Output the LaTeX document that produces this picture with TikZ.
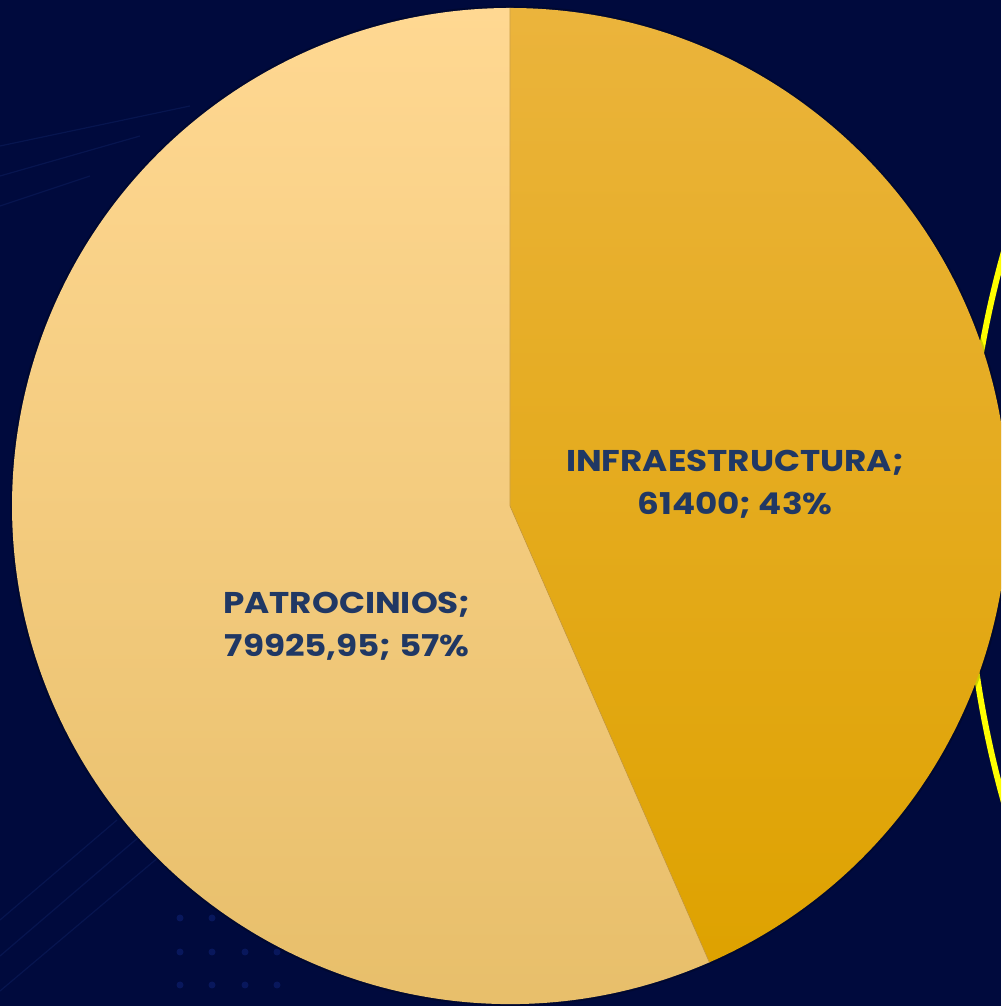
\documentclass[tikz,border=0pt]{standalone}
\usepackage{fontspec}
\setmainfont{Poppins}
\newfontfamily\labelfont[FakeStretch=1.14]{Poppins}
\usetikzlibrary{calc}
\definecolor{bgnavy}{HTML}{000A3D}
\definecolor{bgline}{HTML}{07154F}
\definecolor{bgdot}{HTML}{08175C}
\definecolor{lighttop}{HTML}{FFD892}
\definecolor{lightbot}{HTML}{E6BD68}
\definecolor{darktop}{HTML}{EBB43C}
\definecolor{darkbot}{HTML}{DEA200}
\definecolor{labelblue}{HTML}{203864}
\definecolor{splitline}{HTML}{C99A3A}
\definecolor{ringyellow}{HTML}{FFFF00}
\tikzset{
  slicelabel/.style={text=labelblue, font=\labelfont\bfseries\fontsize{30}{43}\selectfont, align=center, inner sep=0pt},
  faintline/.style={draw=bgline, line width=1.2pt},
  bgdotstyle/.style={fill=bgdot},
}
\begin{document}
\begin{tikzpicture}[x=1pt,y=1pt]
\useasboundingbox (0,0) rectangle (1001,1006);
\clip (0,0) rectangle (1001,1006);
\fill[bgnavy] (0,0) rectangle (1001,1006);
% faint background lines
\draw[faintline] (0,86) -- (117,186);
\draw[faintline] (0,50) -- (140,170);
\draw[faintline] (0,15) -- (160,150);
\draw[faintline] (0,860) -- (190,900);
\draw[faintline] (0,830) -- (140,870);
\draw[faintline] (0,800) -- (90,830);
% faint dots
\foreach \dx in {180,212,245,277}{
  \foreach \dy in {88,54,21}{
    \fill[bgdotstyle] (\dx,\dy) circle (3.5);
  }
}
% yellow ring behind the pie
\coordinate (ringc) at (1983,479);
\draw[ringyellow, line width=6pt] (ringc) ++(155:1017) arc[start angle=155, end angle=205, radius=1017];
% pie
\coordinate (c) at (510,500);
\fill[black, opacity=0.2] (c) circle (500);
\shade[top color=darktop, bottom color=darkbot]
  (c) -- ++(90:498) arc[start angle=90, end angle=-66.4, radius=498] -- cycle;
\shade[top color=lighttop, bottom color=lightbot]
  (c) -- ++(-66.4:498) arc[start angle=-66.4, end angle=-270, radius=498] -- cycle;
\coordinate (ptop) at ($(c)+(90:498)$);
\coordinate (psplit) at ($(c)+(-66.4:498)$);
\draw[splitline, line width=0.6pt] (ptop) -- (c) -- (psplit);
% labels
\node[slicelabel] (infra) at (735,522) {INFRAESTRUCTURA;\\61400; 43\%};
\node[slicelabel] (patro) at (347,380) {PATROCINIOS;\\79925,95; 57\%};
\end{tikzpicture}
\end{document}
